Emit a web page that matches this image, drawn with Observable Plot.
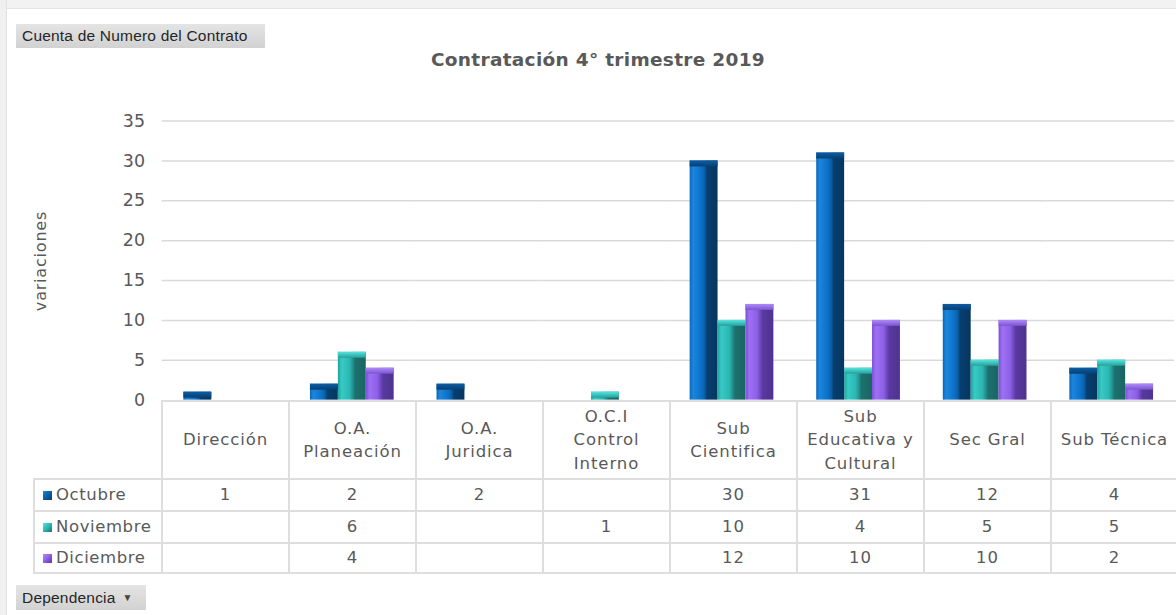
<!DOCTYPE html>
<html>
<head>
<meta charset="utf-8">
<script src="https://cdn.jsdelivr.net/npm/d3@7"></script>
<script src="https://cdn.jsdelivr.net/npm/@observablehq/plot@0.6"></script>
<style>
  html, body { margin: 0; padding: 0; background: #ffffff; overflow: hidden; }
  #frame { position: relative; width: 1176px; height: 615px; overflow: hidden; background: #fff;
           font-family: "DejaVu Sans", sans-serif; color: #595959; }
  .topstrip { position: absolute; left: 0; top: 0; width: 1176px; height: 8px; background: #f2f2f2; border-bottom: 1px solid #e2e2e2; }
  .leftstrip { position: absolute; left: 0; top: 0; width: 6px; height: 615px; background: #f0f0f0; border-right: 1px solid #e2e2e2; }
  .btn { position: absolute; background: linear-gradient(#e4e4e4, #d2d2d2); color: #262626;
         font-family: "Liberation Sans", sans-serif; font-size: 15.5px; letter-spacing: 0.2px; display: flex; align-items: center;
         box-sizing: border-box; padding-left: 6px; white-space: nowrap; }
  .title { position: absolute; left: 0; width: 1196px; top: 49px; text-align: center; font-weight: bold;
           font-size: 18.5px; letter-spacing: 0.3px; color: #595959; }
  .ytitle { position: absolute; left: 40px; top: 261px; transform: translate(-50%, -50%) rotate(-90deg);
            font-size: 16px; letter-spacing: 0.8px; color: #595959; white-space: nowrap; }
  #chart { position: absolute; left: 0; top: 0; }
  .cell { position: absolute; box-sizing: border-box; border: 2px solid #dedede; display: flex;
          align-items: center; justify-content: center; text-align: center; font-size: 16.5px; letter-spacing: 0.9px;
          color: #595959; line-height: 23.5px; }
  .lab { justify-content: flex-start; padding-left: 8px; letter-spacing: 0.6px; }
  .key { display: inline-block; width: 9px; height: 9px; margin-right: 4px; }
</style>
</head>
<body>
<div id="frame">
  <div class="topstrip"></div>
  <div class="leftstrip"></div>
  <div class="btn" style="left:16px; top:24px; width:249px; height:24px;">Cuenta de Numero del Contrato</div>
  <div class="title">Contratación 4° trimestre 2019</div>
  <div class="ytitle">variaciones</div>
  <div id="chart"></div>
  <div id="table"></div>
  <div class="btn" style="left:16px; top:585px; width:130px; height:25px;">Dependencia <span style="font-size:10px; margin-left:7px; color:#444;">▼</span></div>
</div>
<script>
// ---- data ----
const categories = ["Dirección", "O.A. Planeación", "O.A. Juridica", "O.C.I Control Interno",
                    "Sub Cientifica", "Sub Educativa y Cultural", "Sec Gral", "Sub Técnica"];
const categoryLines = [["Dirección"], ["O.A.", "Planeación"], ["O.A.", "Juridica"], ["O.C.I", "Control", "Interno"],
                       ["Sub", "Cientifica"], ["Sub", "Educativa y", "Cultural"], ["Sec Gral"], ["Sub Técnica"]];
const months = ["Octubre", "Noviembre", "Diciembre"];
const octubre   = [1, 2, 2, null, 30, 31, 12, 4];
const noviembre = [null, 6, null, 1, 10, 4, 5, 5];
const diciembre = [null, 4, null, null, 12, 10, 10, 2];
const yTicks = [0, 5, 10, 15, 20, 25, 30, 35];

const series = [octubre, noviembre, diciembre];
const data = months.flatMap((m, i) =>
  series[i].map((v, j) => ({cat: categories[j], month: m, value: v})).filter(d => d.value != null));

// bevel-like gradients per series
const bodyStops = [
  [["0%", "#0a66b8"], ["12%", "#1b86dd"], ["42%", "#0b70c6"], ["54%", "#0a5ea6"], ["62%", "#073f70"], ["100%", "#06365f"]],
  [["0%", "#249f9c"], ["14%", "#37cbc6"], ["42%", "#2bb6b2"], ["54%", "#22908d"], ["62%", "#1c716f"], ["100%", "#1a6563"]],
  [["0%", "#7b50d2"], ["14%", "#9d70f4"], ["42%", "#8c5fe6"], ["54%", "#6d47bc"], ["62%", "#59399e"], ["100%", "#4f3291"]]
];
const capColors = [["#0c5da6", "#083f70"], ["#52e6e0", "#2a9e9a"], ["#b08af9", "#7a55cf"]];

const chart = Plot.plot({
  width: 1180,
  height: 420,
  marginLeft: 160,
  marginRight: 0,
  marginTop: 121,
  marginBottom: 19,
  style: {fontFamily: "DejaVu Sans, sans-serif", fontSize: "17.5px", color: "#595959", background: "transparent", overflow: "visible"},
  fx: {domain: categories, padding: 0, axis: null, label: null},
  x: {domain: months, paddingInner: 0, paddingOuter: 0.72, axis: null},
  y: {domain: [0, 35], ticks: yTicks.length - 1, tickSize: 0, tickPadding: 17, label: null},
  color: {domain: months, range: months.map((m, i) => `url(#body-${i})`)},
  marks: [
    Plot.ruleY(yTicks.filter(t => t > 0), {stroke: "#d9d9d9", strokeWidth: 1.5}),
    Plot.barY(data, {fx: "cat", x: "month", y: "value", fill: "month"}),
    ...months.map((m, i) => Plot.barY(data.filter(d => d.month === m),
      {fx: "cat", x: "month", y1: "value", y2: "value", insetBottom: -6, fill: `url(#cap-${i})`}))
  ]
});

const svg = d3.select(chart);
const defs = svg.insert("defs", ":first-child");
bodyStops.forEach((stops, i) => {
  const g = defs.append("linearGradient").attr("id", `body-${i}`).attr("x1", "0").attr("x2", "1").attr("y1", "0").attr("y2", "0");
  stops.forEach(([o, c]) => g.append("stop").attr("offset", o).attr("stop-color", c));
});
capColors.forEach(([a, b], i) => {
  const g = defs.append("linearGradient").attr("id", `cap-${i}`).attr("x1", "0").attr("x2", "0").attr("y1", "0").attr("y2", "1");
  g.append("stop").attr("offset", "0%").attr("stop-color", a);
  g.append("stop").attr("offset", "100%").attr("stop-color", b);
});
document.getElementById("chart").appendChild(chart);

// ---- data table aligned to Plot's scales ----
const fx = chart.scale("fx");
const y = chart.scale("y");
const bw = fx.bandwidth;
const top0 = y.apply(0) - 1;
const headerH = 78, rowH = [32, 32, 30];
const table = document.getElementById("table");
const labelLeft = 34;
function cell(left, top, w, h, html, cls) {
  const d = document.createElement("div");
  d.className = "cell" + (cls ? " " + cls : "");
  d.style.left = (left - 1) + "px";
  d.style.top = top + "px";
  d.style.width = (w + 2) + "px";
  d.style.height = (h + 2) + "px";
  d.innerHTML = html;
  table.appendChild(d);
}
categories.forEach((c, j) => {
  cell(fx.apply(c), top0, bw, headerH, categoryLines[j].join("<br>"));
});
const keyBg = [
  "linear-gradient(135deg, #1b86dd 0%, #0a5ea6 50%, #073f70 100%)",
  "linear-gradient(135deg, #52e6e0 0%, #2bb6b2 50%, #1c716f 100%)",
  "linear-gradient(135deg, #b08af9 0%, #8c5fe6 50%, #59399e 100%)"
];
let rowTop = top0 + headerH;
months.forEach((m, i) => {
  cell(labelLeft, rowTop, fx.apply(categories[0]) - labelLeft, rowH[i],
       `<span class="key" style="background:${keyBg[i]}"></span>${m}`, "lab");
  categories.forEach((c, j) => {
    const v = series[i][j];
    cell(fx.apply(c), rowTop, bw, rowH[i], v == null ? "" : String(v));
  });
  rowTop += rowH[i];
});
</script>
</body>
</html>
